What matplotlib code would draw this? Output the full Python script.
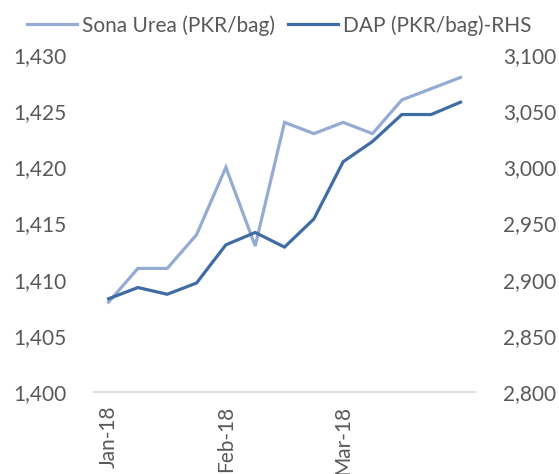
import matplotlib as mpl
mpl.use('Agg')
import matplotlib.pyplot as plt
from matplotlib.ticker import FuncFormatter

# weekly observations, Jan-18 .. end Mar-18
dates = ['Jan-18', '', '', '', 'Feb-18', '', '', '', 'Mar-18', '', '', '', '']
urea = [1408, 1411, 1411, 1414, 1420, 1413, 1424, 1423, 1424, 1423, 1426, 1427, 1428]
dap = [2883, 2893, 2887, 2897, 2931, 2942, 2929, 2954, 3005, 3023, 3047, 3047, 3058]

light = '#94ABD3'
dark = '#3F6DA3'
grey = '#595959'

plt.rcParams['font.family'] = ['Lato', 'DejaVu Sans']

fig = plt.figure(figsize=(5.59, 4.74), dpi=100)
ax = fig.add_axes([0.168, 0.173, 0.682, 0.711])
ax2 = ax.twinx()

x = list(range(len(urea)))
l1, = ax.plot(x, urea, color=light, lw=2.3, solid_joinstyle='miter')
l2, = ax2.plot(x, dap, color=dark, lw=2.3, solid_joinstyle='miter')

ax.set_ylim(1400, 1430)
ax2.set_ylim(2800, 3100)
ax.set_xlim(-0.5, len(urea) - 0.5)
ax.set_yticks(range(1400, 1431, 5))
ax2.set_yticks(range(2800, 3101, 50))
fmt = FuncFormatter(lambda v, p: '{:,.0f}'.format(v))
ax.yaxis.set_major_formatter(fmt)
ax2.yaxis.set_major_formatter(fmt)

ax.set_xticks(x)
ax.set_xticklabels(dates, rotation=90, va='top', ha='center')

for a in (ax, ax2):
    for s in a.spines.values():
        s.set_visible(False)
    a.tick_params(length=0, colors=grey, labelsize=15)
ax.spines['bottom'].set_visible(True)
ax.spines['bottom'].set_color('#D9D9D9')
ax.spines['bottom'].set_linewidth(1.2)
ax.tick_params(axis='y', pad=20)
ax2.tick_params(axis='y', pad=20)
ax.tick_params(axis='x', pad=10)

fig.legend([l1, l2], ['Sona Urea (PKR/bag)', 'DAP (PKR/bag)-RHS'], loc='upper center',
           bbox_to_anchor=(0.5, 1.008), ncol=2, frameon=False, fontsize=15,
           labelcolor=grey, handlelength=2.4, handletextpad=0.25, columnspacing=0.6)

fig.savefig('out.png', dpi=100)
